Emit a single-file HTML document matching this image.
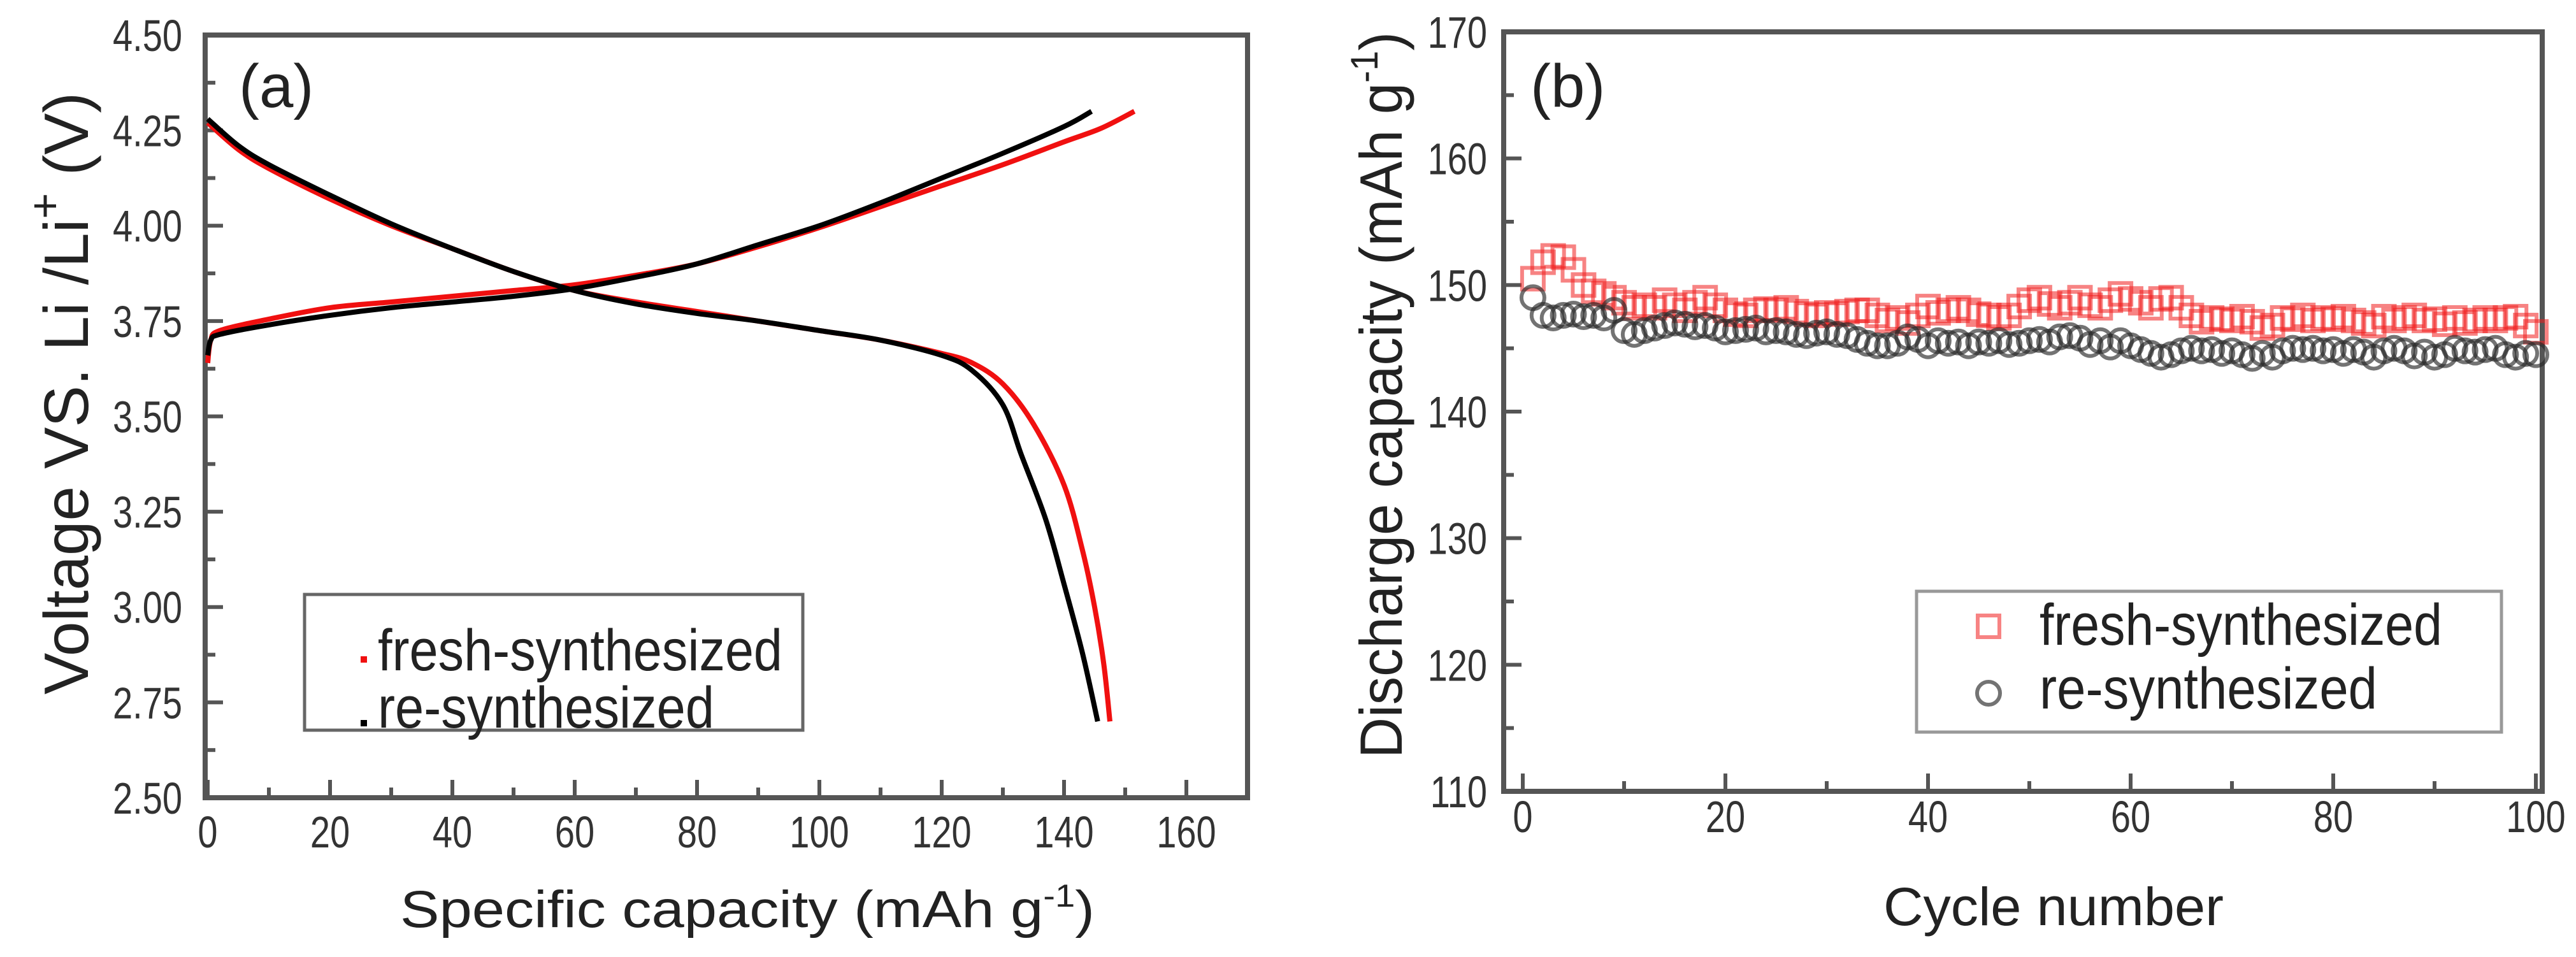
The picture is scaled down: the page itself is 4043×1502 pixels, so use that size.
<!DOCTYPE html>
<html><head><meta charset="utf-8"><style>
html,body{margin:0;padding:0;background:#fff;}
svg{display:block;font-family:"Liberation Sans",sans-serif;}
</style></head><body>
<svg id="fig" width="4043" height="1502" viewBox="0 0 4043 1502" xmlns="http://www.w3.org/2000/svg">
<g id="pa"></g>
<g id="pb"></g>
</svg>
<script>
// ---- Panel (a) data ----
const chargeFreshX = [0,0.5,2,10,20,30,40,50,60,70,80,90,100,110,120,130,140,146,151.5];
const chargeFreshY = [3.64,3.70,3.725,3.755,3.785,3.80,3.815,3.83,3.845,3.87,3.90,3.945,3.995,4.05,4.105,4.16,4.22,4.255,4.30];
const chargeReX = [0,0.5,2,10,20,30,40,50,60,70,80,90,100,110,120,130,140,144.5];
const chargeReY = [3.66,3.70,3.715,3.74,3.765,3.785,3.80,3.815,3.835,3.865,3.90,3.95,4.00,4.06,4.125,4.19,4.26,4.30];
const dischFreshX = [0,5,10,20,30,40,50,60,70,80,90,100,110,120,125,130,135,140,143,145,146.5,147.5];
const dischFreshY = [4.27,4.20,4.15,4.07,4.00,3.94,3.88,3.83,3.80,3.775,3.75,3.725,3.70,3.665,3.64,3.585,3.48,3.32,3.15,3.00,2.85,2.70];
const dischReX = [0,5,10,20,30,40,50,60,70,80,90,100,110,120,125,130,133,137,140,143,145.5];
const dischReY = [4.28,4.21,4.16,4.08,4.005,3.94,3.88,3.83,3.795,3.77,3.75,3.725,3.70,3.66,3.62,3.53,3.40,3.23,3.06,2.88,2.70];
const aXTicks = [0,20,40,60,80,100,120,140,160];
const aYTicks = [2.50,2.75,3.00,3.25,3.50,3.75,4.00,4.25,4.50];
// ---- Panel (b) data ----
const bCycles = Array.from({length:100},(_,i)=>i+1);
const bFresh = [150.5,151.8,152.3,152.2,151.2,150,149.5,149.3,149,148.6,148.2,148.4,148.2,148.8,148.4,148,148.6,149,148.4,148,147.7,147.6,148,148.1,148,148.2,147.9,147.7,147.6,147.8,147.7,147.9,148,148,147.6,147.2,147.4,147,147.6,148.3,147.8,148,148.2,148,147.7,147.6,147.4,147.6,148.3,148.8,149,148.5,148.2,148.6,149,148.4,148.2,148.8,149.3,148.9,148.6,148.2,148.9,149,148.2,147.6,147.1,147.4,147.3,147.2,147.5,147.1,146.6,146.8,147.4,147.3,147.6,147.2,147.4,147.3,147.5,147.2,147,146.8,147.5,147.2,147.4,147.6,147.2,147.3,146.9,147.4,147,147.2,147.4,147.2,147.4,147.5,146.8,146.3];
const bRe = [149,147.6,147.4,147.6,147.7,147.5,147.6,147.4,148,146.4,146.1,146.4,146.6,146.8,147,146.9,146.7,146.8,146.6,146.3,146.4,146.5,146.6,146.3,146.4,146.3,146.1,146,146.2,146.3,146.1,146,145.7,145.4,145.2,145.2,145.4,145.9,145.7,145.2,145.6,145.4,145.5,145.2,145.5,145.4,145.6,145.3,145.4,145.6,145.7,145.5,145.9,146,145.8,145.3,145.6,145.1,145.6,145.2,144.9,144.6,144.3,144.5,144.8,145,144.8,144.9,144.6,144.8,144.5,144.2,144.6,144.3,144.8,145,144.9,145,144.8,144.9,144.6,144.9,144.7,144.3,144.8,145,144.8,144.4,144.7,144.3,144.5,145,144.8,144.7,144.9,145,144.5,144.3,144.6,144.5];
const bXTicks = [0,20,40,60,80,100];
const bYTicks = [110,120,130,140,150,160,170];

const NS='http://www.w3.org/2000/svg';
function mk(parent,tag,attrs,text){const e=document.createElementNS(NS,tag);for(const k in attrs)e.setAttribute(k,attrs[k]);if(text!==undefined)e.textContent=text;parent.appendChild(e);return e;}

// ===== Panel A =====
const pa=document.getElementById('pa');
const aL=322,aR=1958,aT=55,aB=1252;
const ax=v=>aL+4+(v-0)/170*(aR-aL-4);
const ay=v=>aB-(v-2.5)/2.0*(aB-aT);
for(let v=0;v<=170;v+=10){const maj=v%20===0;const t=mk(pa,'line',{x1:ax(v),x2:ax(v),y1:aB,y2:aB-(maj?28:16),stroke:'#555','stroke-width':6});

}
for(let i=0;i<=16;i++){const v=2.5+i*0.125;const maj=i%2===0;const t=mk(pa,'line',{x1:aL,x2:aL+(maj?28:16),y1:ay(v),y2:ay(v),stroke:'#555','stroke-width':6});

}
aXTicks.forEach(v=>{const t=mk(pa,'text',{x:ax(v),y:1330,'font-size':70,'text-anchor':'middle',fill:'#333',transform:`translate(${ax(v)},0) scale(0.8,1) translate(${-ax(v)},0)`},String(v));

});
aYTicks.forEach(v=>{const t=mk(pa,'text',{x:286,y:ay(v)+25,'font-size':70,'text-anchor':'end',fill:'#333',transform:`translate(286,0) scale(0.8,1) translate(-286,0)`},v.toFixed(2));

});
const fa=mk(pa,'rect',{x:aL,y:aT,width:aR-aL,height:aB-aT,fill:'none',stroke:'#555','stroke-width':8});


function line(g,xs,ys,fx,fy,col,name){
  const P=xs.map((x,i)=>[fx(x),fy(ys[i])]);
  let d='M'+P[0][0].toFixed(1)+','+P[0][1].toFixed(1);
  for(let i=0;i<P.length-1;i++){const p0=P[Math.max(0,i-1)],p1=P[i],p2=P[i+1],p3=P[Math.min(P.length-1,i+2)];
    const c1=[p1[0]+(p2[0]-p0[0])/6,p1[1]+(p2[1]-p0[1])/6],c2=[p2[0]-(p3[0]-p1[0])/6,p2[1]-(p3[1]-p1[1])/6];
    d+=` C${c1[0].toFixed(1)},${c1[1].toFixed(1)} ${c2[0].toFixed(1)},${c2[1].toFixed(1)} ${p2[0].toFixed(1)},${p2[1].toFixed(1)}`;}
  const p=mk(g,'path',{d:d,fill:'none',stroke:col,'stroke-width':8,'stroke-linejoin':'round'});

}
line(pa,chargeFreshX,chargeFreshY,ax,ay,'#f01010','charge-fresh-line');
line(pa,dischFreshX,dischFreshY,ax,ay,'#f01010','discharge-fresh-line');
line(pa,chargeReX,chargeReY,ax,ay,'#000','charge-re-line');
line(pa,dischReX,dischReY,ax,ay,'#000','discharge-re-line');
</script>
<script>
(function(){
const pa=document.getElementById('pa');
function mk(parent,tag,attrs,text){const e=document.createElementNS('http://www.w3.org/2000/svg',tag);for(const k in attrs)e.setAttribute(k,attrs[k]);if(text!==undefined)e.textContent=text;parent.appendChild(e);return e;}
let t=mk(pa,'text',{x:375,y:168,'font-size':96,fill:'#222'},'(a)');


t=mk(pa,'text',{x:628,y:1455,'font-size':82,fill:'#222',textLength:1090,lengthAdjust:'spacingAndGlyphs'});
t.innerHTML='Specific capacity (mAh g<tspan dy="-32" font-size="50">-1</tspan><tspan dy="32">)</tspan>';


t=mk(pa,'text',{x:0,y:0,'font-size':98,fill:'#222',transform:'translate(138,1090) rotate(-90)'});
t.innerHTML='Voltage VS. Li /Li<tspan dy="-44" font-size="70">+</tspan><tspan dy="44"> (V)</tspan>';


const lg=mk(pa,'g',{});


mk(lg,'rect',{x:478,y:933,width:782,height:213,fill:'#fff',stroke:'#666','stroke-width':5});
let m=mk(lg,'rect',{x:566,y:1030,width:10,height:10,fill:'#f01010'});


m=mk(lg,'rect',{x:566,y:1130,width:10,height:10,fill:'#000'});


t=mk(lg,'text',{x:593,y:1052,'font-size':92,fill:'#222',textLength:635,lengthAdjust:'spacingAndGlyphs'},'fresh-synthesized');


t=mk(lg,'text',{x:593,y:1142,'font-size':92,fill:'#222',textLength:528,lengthAdjust:'spacingAndGlyphs'},'re-synthesized');


})();
</script>
<script>
(function(){
const NS='http://www.w3.org/2000/svg';
function mk(parent,tag,attrs,text){const e=document.createElementNS(NS,tag);for(const k in attrs)e.setAttribute(k,attrs[k]);if(text!==undefined)e.textContent=text;parent.appendChild(e);return e;}
const pb=document.getElementById('pb');
const bL=2360,bR=3990,bT=50,bB=1242;
const bx=v=>2390+v/100*(3980-2390);
const by=v=>bB-(v-110)/60*(bB-bT);
for(let v=0;v<=100;v+=10){const maj=v%20===0;const t=mk(pb,'line',{x1:bx(v),x2:bx(v),y1:bB,y2:bB-(maj?28:16),stroke:'#555','stroke-width':6});

}
for(let v=110;v<=170;v+=5){const maj=v%10===0;const t=mk(pb,'line',{x1:bL,x2:bL+(maj?28:16),y1:by(v),y2:by(v),stroke:'#555','stroke-width':6});

}
bXTicks.forEach(v=>{const t=mk(pb,'text',{x:bx(v),y:1306,'font-size':70,'text-anchor':'middle',fill:'#333',transform:`translate(${bx(v)},0) scale(0.8,1) translate(${-bx(v)},0)`},String(v));

});
bYTicks.forEach(v=>{const t=mk(pb,'text',{x:2334,y:by(v)+25,'font-size':70,'text-anchor':'end',fill:'#333',transform:`translate(2334,0) scale(0.8,1) translate(-2334,0)`},String(v));

});
const fb=mk(pb,'rect',{x:bL,y:bT,width:bR-bL,height:bB-bT,fill:'none',stroke:'#555','stroke-width':8});


bCycles.forEach((c,i)=>{const r=mk(pb,'rect',{x:bx(c)-17,y:by(bFresh[i])-17,width:34,height:34,fill:'none',stroke:'rgba(240,30,30,0.55)','stroke-width':6});

});
bCycles.forEach((c,i)=>{const r=mk(pb,'circle',{cx:bx(c),cy:by(bRe[i]),r:18,fill:'none',stroke:'rgba(40,40,40,0.65)','stroke-width':6});

});
let t=mk(pb,'text',{x:2402,y:168,'font-size':96,fill:'#222'},'(b)');


t=mk(pb,'text',{x:2956,y:1452,'font-size':84,fill:'#222',textLength:534,lengthAdjust:'spacingAndGlyphs'},'Cycle number');


t=mk(pb,'text',{x:0,y:0,'font-size':94,fill:'#222',transform:'translate(2200,1190) rotate(-90)',textLength:1140,lengthAdjust:'spacingAndGlyphs'});
t.innerHTML='Discharge capacity (mAh g<tspan dy="-38" font-size="60">-1</tspan><tspan dy="38">)</tspan>';


const lg=mk(pb,'g',{});


mk(lg,'rect',{x:3008,y:928,width:918,height:221,fill:'#fff',stroke:'#999','stroke-width':5});
let m=mk(lg,'rect',{x:3104,y:966,width:34,height:34,fill:'none',stroke:'rgba(240,30,30,0.55)','stroke-width':6});


m=mk(lg,'circle',{cx:3121,cy:1088,r:18,fill:'none',stroke:'rgba(40,40,40,0.65)','stroke-width':6});


t=mk(lg,'text',{x:3201,y:1012,'font-size':92,fill:'#222',textLength:632,lengthAdjust:'spacingAndGlyphs'},'fresh-synthesized');


t=mk(lg,'text',{x:3201,y:1112,'font-size':92,fill:'#222',textLength:530,lengthAdjust:'spacingAndGlyphs'},'re-synthesized');


})();
</script>
</body></html>
